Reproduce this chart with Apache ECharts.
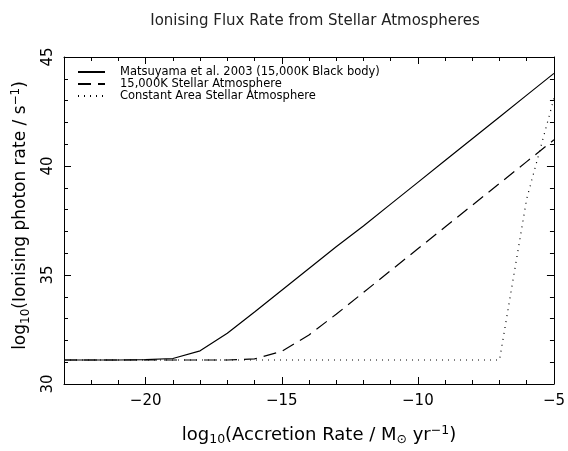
<!DOCTYPE html>
<html>
<head>
<meta charset="utf-8">
<script src="https://cdn.jsdelivr.net/npm/echarts@6/dist/echarts.min.js"></script>
<style>html,body{margin:0;padding:0;background:#fff}#c{width:568px;height:451px}</style>
</head>
<body>
<div id="c"></div>
<script>
const xValues = [-23,-22,-21,-20,-19,-18,-17,-16,-15,-14,-13,-12,-11,-10,-9,-8,-7,-6,-5];
const blackBody = [31.1,31.1,31.1,31.12,31.17,31.52,32.33,33.3,34.3,35.3,36.3,37.25,38.25,39.25,40.25,41.25,42.25,43.25,44.25];
const stellarAtm = [31.1,31.1,31.1,31.1,31.1,31.1,31.1,31.15,31.5,32.25,33.2,34.2,35.2,36.2,37.2,38.2,39.2,40.2,41.2];
const constArea = [31.1,31.1,31.1,31.1,31.1,31.1,31.1,31.1,31.1,31.1,31.1,31.1,31.1,31.1,31.1,31.1,31.1,38.5,43.1];
const seriesNames = ['Matsuyama et al. 2003 (15,000K Black body)','15,000K Stellar Atmosphere','Constant Area Stellar Atmosphere'];
const xMajor = [-20,-15,-10,-5];
const xMinor = [-23,-22,-21,-20,-19,-18,-17,-16,-15,-14,-13,-12,-11,-10,-9,-8,-7,-6,-5];
const yMajor = [30,35,40,45];
const yMinor = [30,31,32,33,34,35,36,37,38,39,40,41,42,43,44,45];

const FONT = 'DejaVu Sans';
const pair = arr => xValues.map((x,i)=>[x,arr[i]]);
function xAx(pos, vals, len, labels, line){
  return {type:'value', position:pos, min:-23, max:-5,
    axisLine:{show:line, onZero:false, lineStyle:{color:'#000',width:1}},
    axisTick:{show:true, inside:true, length:len, customValues:vals, lineStyle:{color:'#000'}},
    axisLabel:{show:labels, customValues:vals, margin:10, fontSize:15, color:'#000', fontFamily:FONT,
      formatter:v=>String(v).replace('-','\u2212')},
    splitLine:{show:false}};
}
function yAx(pos, vals, len, labels, line){
  return {type:'value', position:pos, min:30, max:45,
    axisLine:{show:line, onZero:false, lineStyle:{color:'#000',width:1}},
    axisTick:{show:true, inside:true, length:len, customValues:vals, lineStyle:{color:'#000'}},
    axisLabel:{show:labels, customValues:vals, rotate:90, margin:8, fontSize:15, color:'#000', fontFamily:FONT},
    splitLine:{show:false}};
}
function richSet(big, small){
  return {
    n:{fontSize:big, fontFamily:FONT, color:'#000', lineHeight:22, verticalAlign:'middle'},
    s:{fontSize:small, fontFamily:FONT, color:'#000', lineHeight:10, verticalAlign:'bottom'},
    p:{fontSize:small, fontFamily:FONT, color:'#000', lineHeight:10, verticalAlign:'top'}
  };
}
const xAxes = [xAx('bottom',xMajor,7,true,true), xAx('bottom',xMinor,4,false,false), xAx('top',xMajor,7,false,true), xAx('top',xMinor,4,false,false)];
xAxes[0].name = '{n|log}{s|10}{n|(Accretion Rate / M}{s|\u2299}{n| yr}{p|\u22121}{n|)}';
xAxes[0].nameLocation = 'middle';
xAxes[0].nameGap = 40;
xAxes[0].nameTextStyle = {rich:richSet(18,12.5), padding:[0,0,0,20]};
const yAxes = [yAx('left',yMajor,7,true,true), yAx('left',yMinor,4,false,false), yAx('right',yMajor,7,false,true), yAx('right',yMinor,4,false,false)];
yAxes[0].name = '{n|log}{s|10}{n|(Ionising photon rate / s}{p|\u22121}{n|)}';
yAxes[0].nameLocation = 'middle';
yAxes[0].nameGap = 32;
yAxes[0].nameTextStyle = {rich:richSet(17,12), padding:[0,0,0,10]};

const styles = ['solid',[13,7],[1,5]];
const datas = [blackBody, stellarAtm, constArea];
const chart = echarts.init(document.getElementById('c'), null, {renderer:'canvas'});
chart.setOption({
  animation:false,
  backgroundColor:'#fff',
  title:{text:'Ionising Flux Rate from Stellar Atmospheres', left:310, textAlign:'center', top:9,
    textStyle:{fontSize:15, fontWeight:'normal', color:'#222', fontFamily:FONT}},
  grid:{left:64, right:11, top:57, bottom:65, containLabel:false},
  legend:{orient:'vertical', left:72, top:61, itemWidth:27, itemHeight:10, itemGap:0,
    itemStyle:{opacity:0},
    textStyle:{fontSize:11.5, lineHeight:12, color:'#000', fontFamily:FONT, padding:[0,0,0,10]},
    data:seriesNames},
  xAxis:xAxes,
  yAxis:yAxes,
  series:seriesNames.map((name,i)=>({
    name, type:'line', xAxisIndex:0, yAxisIndex:0, showSymbol:false, symbol:'none',
    data:pair(datas[i]), lineStyle:{color:'#000', width:1.2, type:styles[i]}, itemStyle:{color:'#000'}
  }))
});
</script>
</body>
</html>
